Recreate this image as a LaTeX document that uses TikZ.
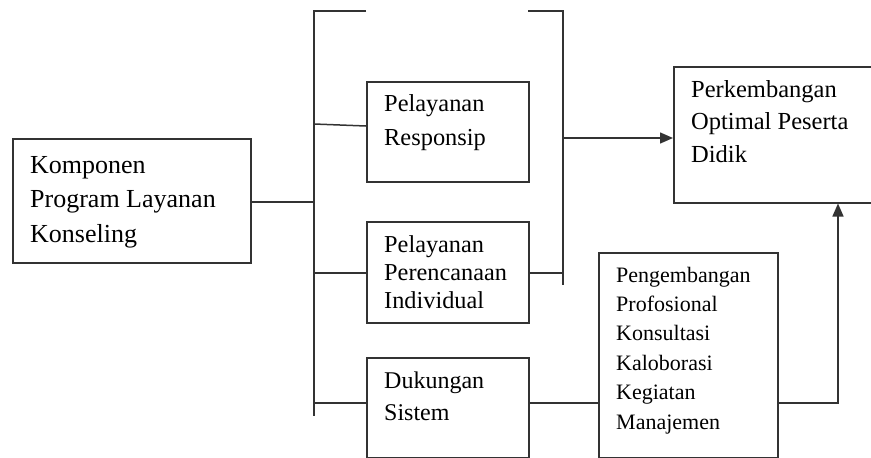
\documentclass[tikz,border=0pt]{standalone}
\usepackage{fontspec}
\setmainfont{Liberation Serif}
\usetikzlibrary{arrows.meta}
\newcommand\bxt[3]{\parbox[t]{300pt}{\fontsize{#1}{#2}\selectfont\raggedright #3}}
\begin{document}
\begin{tikzpicture}[x=1pt,y=-1pt,
  ln/.style={draw=black!80,line width=1.5pt},
  box/.style={ln,rectangle,inner sep=0pt,anchor=north west},
  txt/.style={anchor=base west,inner sep=0pt,text=black},
  arr/.style={ln,-{Triangle[length=13pt,width=11pt]}}]
\useasboundingbox (0,0) rectangle (871,458);
\clip (0,0) rectangle (871,458);
% boxes
\node[box,minimum width=238pt,minimum height=124pt] (k) at (12,138) {};
\node[box,minimum width=162pt,minimum height=100pt] (r) at (366,81) {};
\node[box,minimum width=162pt,minimum height=101pt] (p) at (366,221) {};
\node[box,minimum width=162pt,minimum height=100pt] (d) at (366,357) {};
\node[box,minimum width=207pt,minimum height=136pt] (o) at (673,66) {};
\node[box,minimum width=179pt,minimum height=205pt] (g) at (598,252) {};
% texts
\node[txt] (kt) at (30,173) {\bxt{26}{34.7}{Komponen\\Program Layanan\\Konseling}};
\node[txt] (rt) at (384,111) {\bxt{24.4}{34}{Pelayanan\\Responsip}};
\node[txt] (pt) at (384,252) {\bxt{24.3}{28}{Pelayanan\\Perencanaan\\Individual}};
\node[txt] (dt) at (384,388) {\bxt{24}{32}{Dukungan\\Sistem}};
\node[txt] (ot) at (691,97) {\bxt{24.5}{32.5}{Perkembangan\\Optimal Peserta\\Didik}};
\node[txt] (gt) at (616,282) {\bxt{22}{29.4}{Pengembangan\\Profosional\\Konsultasi\\Kaloborasi\\Kegiatan\\Manajemen}};
% bracket coordinates
\coordinate (lt) at (314,11);
\coordinate (lb) at (314,416);
\coordinate (lte) at (366,11);
\coordinate (rts) at (528,11);
\coordinate (rt1) at (563,11);
\coordinate (rb) at (563,285);
\coordinate (lk) at (314,202);
\coordinate (lr) at (314,124);
\coordinate (lp) at (314,273);
\coordinate (ld) at (314,403);
\coordinate (ra) at (563,138);
\coordinate (rp) at (563,273);
\coordinate (gc) at (838,403);
% connectors
\draw[ln] (lte) -- (lt) -- (lb);
\draw[ln] (rts) -- (rt1) -- (rb);
\draw[ln] (k.east |- lk) -- (lk);
\draw[ln] (lr) -- (366,126);
\draw[ln] (lp) -- (p.west |- lp);
\draw[ln] (p.east |- rp) -- (rp);
\draw[ln] (ld) -- (d.west |- ld);
\draw[ln] (d.east |- ld) -- (g.west |- ld);
\draw[arr] (ra) -- (o.west |- ra);
\draw[arr] (g.east |- gc) -- (gc) -- (gc |- o.south);
\end{tikzpicture}
\end{document}
